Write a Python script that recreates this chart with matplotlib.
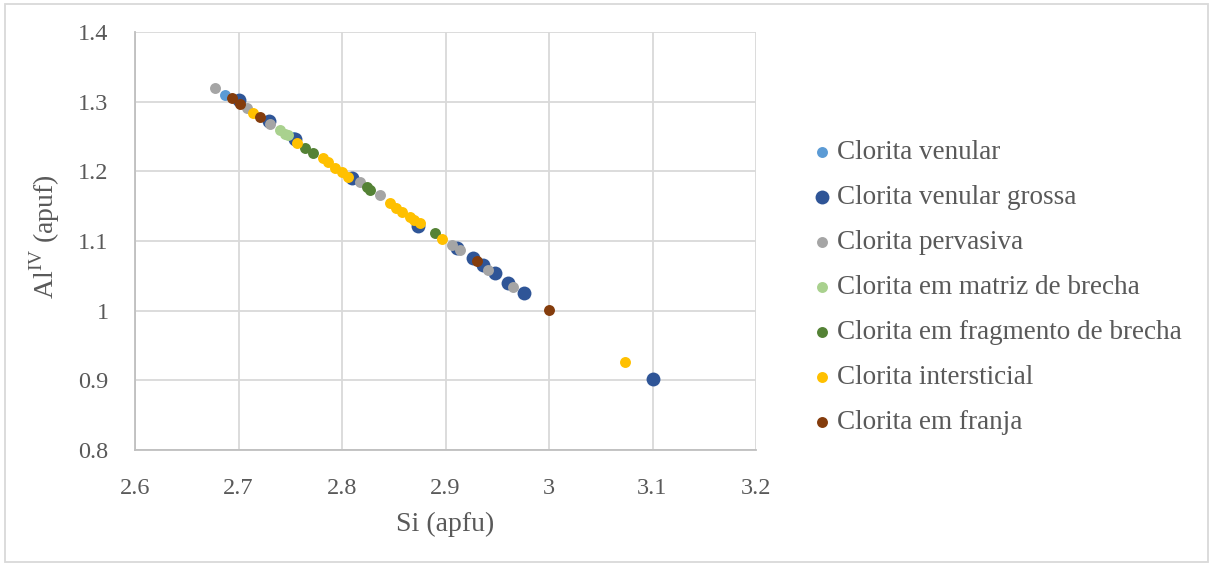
import matplotlib.pyplot as plt
from matplotlib.patches import Rectangle

# Si (apfu) x AlIV (apuf) por tipo de clorita
venular_si = [2.687, 2.729, 2.753]
venular_al = [1.310, 1.273, 1.249]

grossa_si = [2.700, 2.729, 2.755, 2.810, 2.873, 2.911, 2.927, 2.936, 2.948, 2.960, 2.976, 3.100]
grossa_al = [1.302, 1.272, 1.247, 1.190, 1.122, 1.090, 1.076, 1.066, 1.054, 1.040, 1.025, 0.902]

pervasiva_si = [2.677, 2.708, 2.730, 2.817, 2.837, 2.906, 2.914, 2.941, 2.965]
pervasiva_al = [1.320, 1.291, 1.268, 1.185, 1.166, 1.094, 1.087, 1.058, 1.034]

matriz_si = [2.740, 2.745, 2.748]
matriz_al = [1.259, 1.254, 1.252]

fragmento_si = [2.764, 2.772, 2.824, 2.827, 2.890]
fragmento_al = [1.233, 1.226, 1.178, 1.173, 1.111]

intersticial_si = [2.714, 2.757, 2.782, 2.786, 2.793, 2.800, 2.806, 2.846, 2.852,
                   2.858, 2.866, 2.870, 2.875, 2.897, 3.073]
intersticial_al = [1.284, 1.241, 1.219, 1.213, 1.205, 1.199, 1.192, 1.155, 1.148,
                   1.142, 1.134, 1.130, 1.126, 1.103, 0.926]

franja_si = [2.694, 2.701, 2.721, 2.930, 3.000]
franja_al = [1.305, 1.297, 1.278, 1.071, 1.001]

series = [
    ("Clorita venular", venular_si, venular_al, "#5B9BD5", 62),
    ("Clorita venular grossa", grossa_si, grossa_al, "#2F5597", 100),
    ("Clorita pervasiva", pervasiva_si, pervasiva_al, "#A5A5A5", 62),
    ("Clorita em matriz de brecha", matriz_si, matriz_al, "#A9D18E", 62),
    ("Clorita em fragmento de brecha", fragmento_si, fragmento_al, "#548235", 62),
    ("Clorita intersticial", intersticial_si, intersticial_al, "#FFC000", 62),
    ("Clorita em franja", franja_si, franja_al, "#843C0C", 62),
]

plt.rcParams["font.family"] = ["Liberation Serif", "DejaVu Serif"]
plt.rcParams["mathtext.fontset"] = "custom"
plt.rcParams["mathtext.rm"] = "Liberation Serif"
text_color = "#595959"

fig = plt.figure(figsize=(12.12, 5.67), dpi=100)
ax = fig.add_axes([135 / 1212, 117 / 567, 621 / 1212, 418 / 567])

for name, xs, ys, color, size in series:
    ax.scatter(xs, ys, s=size, color=color, label=name, linewidths=0, zorder=3)

ax.set_xlim(2.6, 3.2)
ax.set_ylim(0.8, 1.4)
ax.set_xticks([2.6, 2.7, 2.8, 2.9, 3.0, 3.1, 3.2])
ax.set_xticklabels(["2.6", "2.7", "2.8", "2.9", "3", "3.1", "3.2"])
ax.set_yticks([0.8, 0.9, 1.0, 1.1, 1.2, 1.3, 1.4])
ax.set_yticklabels(["0.8", "0.9", "1", "1.1", "1.2", "1.3", "1.4"])
ax.grid(True, color="#D9D9D9", linewidth=1.3, zorder=0)
ax.set_axisbelow(True)
for side in ["top", "right"]:
    ax.spines[side].set_visible(False)
for side in ["left", "bottom"]:
    ax.spines[side].set_color("#BFBFBF")
    ax.spines[side].set_linewidth(1.3)
ax.tick_params(length=0, labelsize=17.5, labelcolor=text_color)
ax.tick_params(axis="y", pad=19)
ax.tick_params(axis="x", pad=20)

ax.set_xlabel("Si (apfu)", fontsize=20, color=text_color)
ax.xaxis.set_label_coords(0.5, -0.147)
ax.set_ylabel(r"Al$^{\mathrm{IV}}$ (apuf)", fontsize=20, color=text_color)
ax.yaxis.set_label_coords(-0.1175, 0.51)

fig.legend(loc="upper left", bbox_to_anchor=(800 / 1212, 1 - 129 / 567),
           frameon=False, fontsize=19.5, labelcolor=text_color,
           handletextpad=0.155, labelspacing=0.74, borderaxespad=0,
           handlelength=0.8, scatterpoints=1)

fig.patches.append(Rectangle((5 / 1212, 5 / 567), 1203 / 1212, 558 / 567,
                             transform=fig.transFigure, fill=False,
                             edgecolor="#D9D9D9", linewidth=1.3))

fig.savefig("out.png", dpi=100)
plt.close(fig)
